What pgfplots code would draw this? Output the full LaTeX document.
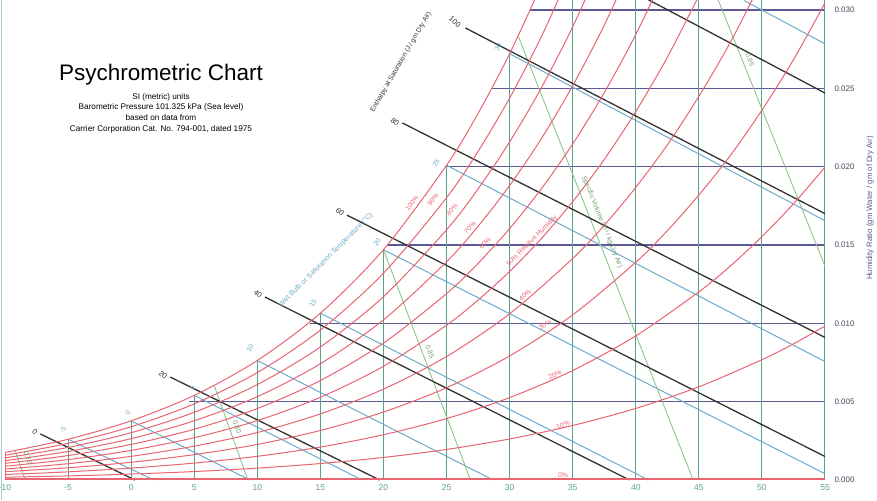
\documentclass[border=0pt]{standalone}
\usepackage{fontspec}
\setmainfont{Liberation Sans}
\usepackage{pgfplots}
\pgfplotsset{compat=1.18}
\definecolor{rhred}{RGB}{232,100,112}
\definecolor{dbgreen}{RGB}{88,162,140}
\definecolor{wbblue}{RGB}{110,170,200}
\definecolor{hmblue}{RGB}{92,88,150}
\definecolor{enblack}{RGB}{50,50,50}
\definecolor{svgreen}{RGB}{140,196,135}
\definecolor{ticktxt}{RGB}{70,70,95}
\tikzset{
  rh/.style={rhred,line width=1pt,smooth},
  db/.style={dbgreen,line width=1pt},
  wb/.style={wbblue,line width=1pt},
  hm/.style={hmblue,line width=1.2pt},
  en/.style={enblack,line width=1.3pt},
  sv/.style={svgreen,line width=0.9pt},
}
\newcommand\sm{\fontsize{6.8}{7.5}\selectfont}

\begin{document}
\begin{tikzpicture}
\begin{axis}[
  at={(5pt,20pt)}, anchor=south west,
  scale only axis, width=820pt, height=480pt,
  xmin=-10, xmax=55, ymin=0, ymax=0.03064,
  axis line style={draw=none},
  major tick length=0pt,
  xtick={-10,-5,0,5,10,15,20,25,30,35,40,45,50,55},
  ytick={0,0.005,0.010,0.015,0.020,0.025,0.030},
  yticklabels={0.000,0.005,0.010,0.015,0.020,0.025,0.030},
  yticklabel pos=right,
  /pgf/number format/assume math mode=true,
  yticklabel style={font=\fontsize{8}{9}\selectfont,text=ticktxt,xshift=6pt},
  xticklabel style={font=\fontsize{8.5}{9}\selectfont,text=dbgreen,yshift=-1pt},
]
% humidity ratio lines
\addplot[hm] coordinates {(4.6,0.005)(55,0.005)};
\addplot[hm] coordinates {(14.2,0.010)(55,0.010)};
\addplot[hm] coordinates {(20.3,0.015)(55,0.015)};
\addplot[hm] coordinates {(24.95,0.020)(55,0.020)};
\addplot[hm] coordinates {(28.6,0.025)(55,0.025)};
\addplot[hm] coordinates {(31.6,0.030)(55,0.030)};
% dry bulb lines
\addplot[rhred,line width=1pt] coordinates {(-9.95,0)(-9.95,0.00176)};
\addplot[db] coordinates {(-5,0)(-5,0.0026)};
\addplot[db] coordinates {(0,0)(0,0.00378)};
\addplot[db] coordinates {(5,0)(5,0.0054)};
\addplot[db] coordinates {(10,0)(10,0.00763)};
\addplot[db] coordinates {(15,0)(15,0.01065)};
\addplot[db] coordinates {(20,0)(20,0.0147)};
\addplot[db] coordinates {(25,0)(25,0.02009)};
\addplot[db] coordinates {(30,0)(30,0.02721)};
\addplot[db] coordinates {(35,0)(35,0.0307)};
\addplot[db] coordinates {(40,0)(40,0.0307)};
\addplot[db] coordinates {(45,0)(45,0.0307)};
\addplot[db] coordinates {(50,0)(50,0.0307)};
\addplot[db] coordinates {(54.95,0)(54.95,0.0307)};
% wet bulb lines
\addplot[wb] coordinates {(-5,0.0026)(1.8,0)};
\addplot[wb] coordinates {(0,0.00378)(9.4,0)};
\addplot[wb] coordinates {(5,0.0054)(18.3,0)};
\addplot[wb] coordinates {(10,0.00763)(28.7,0)};
\addplot[wb] coordinates {(15,0.01065)(41.0,0)};
\addplot[wb] coordinates {(20,0.0147)(55,0.0004)};
\addplot[wb] coordinates {(25,0.02009)(55,0.00756)};
\addplot[wb] coordinates {(30,0.02721)(55,0.01655)};
\addplot[wb] coordinates {(48.6,0.0306)(55,0.02784)};
% specific volume lines
\addplot[sv] coordinates {(-9.2,0.0019)(-8.4,0)};
\addplot[sv] coordinates {(6.6,0.0060)(9.25,0)};
\addplot[sv] coordinates {(20.0,0.0147)(26.9,0)};
\addplot[sv] coordinates {(30.7,0.0283)(44.55,0)};
\addplot[sv] coordinates {(46.5,0.0307)(55,0.01365)};
% enthalpy lines
\addplot[en] coordinates {(-7.2,0.00294)(0.3,0)};
\addplot[en] coordinates {(3.1,0.00657)(19.7,0)};
\addplot[en] coordinates {(10.6,0.01168)(39.5,0)};
\addplot[en] coordinates {(17.1,0.01691)(55,0.0015)};
\addplot[en] coordinates {(21.5,0.02279)(55,0.0091)};
\addplot[en] coordinates {(26.5,0.02885)(55,0.0170)};
\addplot[en] coordinates {(40.9,0.0307)(55,0.0247)};
% relative humidity curves, 100% down to 10%
\addplot[rh] coordinates {(-10,0.00176)(-5,0.0026)(0,0.00378)(5,0.0054)(10,0.00763)(15,0.01065)(20,0.0147)(25,0.02009)(27.5,0.0234)(30,0.02721)(32.5,0.03157)};
\addplot[rh] coordinates {(-10,0.00158)(-5,0.00234)(0,0.0034)(5,0.00486)(10,0.00686)(15,0.00957)(20,0.0132)(25,0.01802)(27.5,0.02098)(30,0.02438)(32.5,0.02827)(35,0.03273)};
\addplot[rh] coordinates {(-10,0.00141)(-5,0.00208)(0,0.00302)(5,0.00432)(10,0.00609)(15,0.00849)(20,0.0117)(25,0.01597)(27.5,0.01858)(30,0.02158)(32.5,0.02501)(35,0.02893)(37.5,0.0334)};
\addplot[rh] coordinates {(-10,0.00123)(-5,0.00182)(0,0.00264)(5,0.00378)(10,0.00532)(15,0.00742)(20,0.01022)(25,0.01393)(27.5,0.0162)(30,0.0188)(32.5,0.02177)(35,0.02517)(37.5,0.02903)(40,0.03344)};
\addplot[rh] coordinates {(-10,0.00106)(-5,0.00156)(0,0.00227)(5,0.00324)(10,0.00456)(15,0.00635)(20,0.00874)(25,0.0119)(27.5,0.01383)(30,0.01605)(32.5,0.01857)(35,0.02145)(37.5,0.02472)(40,0.02844)(42.5,0.03265)};
\addplot[rh] coordinates {(-10,0.00088)(-5,0.0013)(0,0.00189)(5,0.0027)(10,0.00379)(15,0.00528)(20,0.00726)(25,0.00988)(27.5,0.01149)(30,0.01331)(32.5,0.0154)(35,0.01777)(37.5,0.02046)(40,0.02352)(42.5,0.02698)(45,0.03091)};
\addplot[rh] coordinates {(-10,0.0007)(-5,0.00104)(0,0.00151)(5,0.00216)(10,0.00303)(15,0.00422)(20,0.0058)(25,0.00788)(30,0.01061)(35,0.01414)(37.5,0.01626)(40,0.01868)(42.5,0.02139)(45,0.02449)(47.5,0.02794)(50,0.03188)};
\addplot[rh] coordinates {(-10,0.00053)(-5,0.00078)(0,0.00113)(5,0.00162)(10,0.00227)(15,0.00316)(20,0.00434)(25,0.00589)(30,0.00792)(35,0.01054)(40,0.0139)(42.5,0.01591)(45,0.01819)(47.5,0.02072)(50,0.02361)(52.5,0.02683)(55,0.03045)};
\addplot[rh] coordinates {(-10,0.00035)(-5,0.00052)(0,0.00076)(5,0.00108)(10,0.00151)(15,0.0021)(20,0.00289)(25,0.00392)(30,0.00526)(35,0.00699)(40,0.0092)(45,0.01201)(47.5,0.01366)(50,0.01554)(52.5,0.01763)(55,0.01997)};
\addplot[rh] coordinates {(-10,0.00018)(-5,0.00026)(0,0.00038)(5,0.00054)(10,0.00076)(15,0.00105)(20,0.00144)(25,0.00195)(30,0.00262)(35,0.00348)(40,0.00457)(45,0.00595)(50,0.00768)(52.5,0.00869)(55,0.00983)};
\addplot[rhred,line width=1.8pt] coordinates {(-10,0.00005)(55,0.00005)};
\end{axis}

\begin{scope}[x=1pt,y=-1pt,yshift=500pt]
\draw[wbblue!60,line width=1pt] (1.5,0) -- (1.5,500);
% title block
\node[font=\fontsize{22.5}{24}\selectfont] at (161,75) {Psychrometric Chart};
\node[font=\fontsize{8.2}{10.7}\selectfont,align=center] at (161,113)
  {SI (metric) units\\Barometric Pressure 101.325 kPa (Sea level)\\based on data from\\Carrier Corporation Cat. No. 794-001, dated 1975};
% right axis title
\node[font=\fontsize{7.8}{8}\selectfont,text=hmblue,rotate=90] at (870,208)
  {Humidity Ratio (gm Water / gm of Dry Air)};
% enthalpy scale
\node[font=\sm,text=enblack,rotate=60] at (401,62) {Enthalpy at Saturation (J / gm Dry Air)};
\begin{scope}[font=\fontsize{7.5}{8}\selectfont,text=enblack]
\node[rotate=-40] at (35,432) {0};
\node[rotate=-40] at (163,375) {20};
\node[rotate=-40] at (258,294) {40};
\node[rotate=-40] at (340,212) {60};
\node[rotate=-40] at (395,122) {80};
\node[rotate=-40] at (455,22) {100};
\end{scope}
% wet bulb scale
\node[font=\fontsize{7.2}{8}\selectfont,text=wbblue,rotate=45] at (326,260) {Wet Bulb or Saturation Temperature (°C)};
\begin{scope}[font=\sm,text=wbblue]
\node[rotate=60] at (63,430) {-5};
\node[rotate=60] at (128,413) {0};
\node[rotate=60] at (192,388) {5};
\node[rotate=60] at (250,348) {10};
\node[rotate=60] at (313,303) {15};
\node[rotate=60] at (377,242) {20};
\node[rotate=60] at (436,163) {25};
\node[rotate=60] at (498,47) {30};
\end{scope}
% relative humidity labels
\begin{scope}[font=\sm,text=rhred]
\node[rotate=53] at (412,203) {100\%};
\node[rotate=52] at (433,200) {90\%};
\node[rotate=50] at (452,210) {80\%};
\node[rotate=48] at (470,228) {70\%};
\node[rotate=46] at (485,243) {60\%};
\node[rotate=45] at (532,241) {50\% Relative Humidity};
\node[rotate=40] at (525,295) {40\%};
\node[rotate=33] at (545,325) {30\%};
\node[rotate=25] at (555,375) {20\%};
\node[rotate=20] at (563,425) {10\%};
\node at (563,475) {0\%};
\end{scope}
% specific volume labels
\begin{scope}[font=\sm,text=svgreen!80!black]
\node[rotate=-68] at (602,222) {Specific Volume (m³ / kg Dry Air)};
\node[rotate=-70] at (28,458) {0.75};
\node[rotate=-70] at (237,427) {0.80};
\node[rotate=-69] at (430,352) {0.85};
\node[rotate=-68] at (750,60) {0.95};
\end{scope}
\end{scope}
\pgfresetboundingbox
\path[use as bounding box] (0,0) rectangle (877pt,500pt);
\end{tikzpicture}
\end{document}
